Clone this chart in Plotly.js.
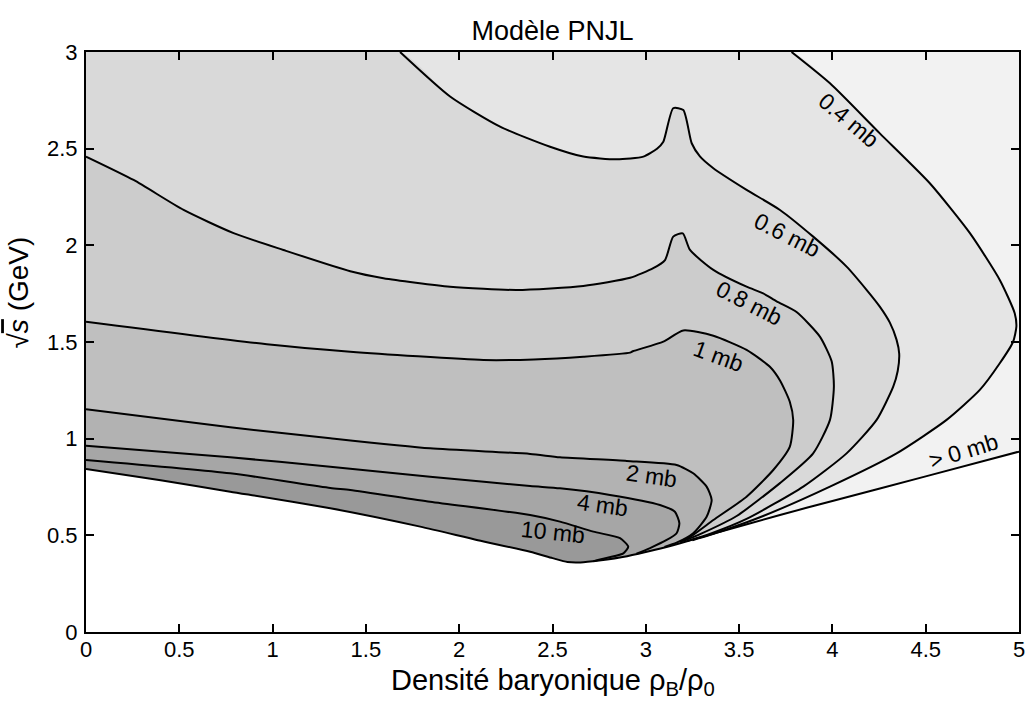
<!DOCTYPE html>
<html>
<head>
<meta charset="utf-8">
<script src="https://cdn.plot.ly/plotly-3.0.1.min.js"></script>
<style>html,body{margin:0;padding:0;background:#fff;}#chart{width:1029px;height:706px;}</style>
</head>
<body>
<div id="chart"></div>
<script>
// Threshold (lower boundary, "> 0 mb")
const lowerX = [0, 0.4, 0.773, 1.309, 1.791, 2.1, 2.38, 2.5, 2.58, 2.65, 2.75, 2.9, 3.05, 3.184, 3.35, 3.719, 4.0, 4.5, 5];
const lowerY = [0.843, 0.785, 0.726, 0.640, 0.545, 0.475, 0.415, 0.382, 0.362, 0.360, 0.370, 0.392, 0.425, 0.459, 0.505, 0.605, 0.678, 0.805, 0.933];

// Iso-cross-section contours (x = rho_B/rho_0, y = sqrt(s) GeV)
const c10x = [0, 0.773, 1.309, 1.416, 1.844, 2.38, 2.54, 2.719, 2.862, 2.906, 2.88, 2.80, 2.72];
const c10y = [0.890, 0.821, 0.745, 0.735, 0.674, 0.605, 0.571, 0.519, 0.485, 0.441, 0.407, 0.385, 0.366];

const c4x = [0, 0.773, 1.309, 1.844, 2.38, 2.54, 2.808, 3.076, 3.156, 3.18, 3.165, 3.112, 3.02, 2.95];
const c4y = [0.964, 0.904, 0.855, 0.803, 0.755, 0.743, 0.709, 0.657, 0.622, 0.562, 0.511, 0.476, 0.433, 0.405];

const c2x = [0, 0.773, 1.309, 1.844, 2.38, 2.54, 2.898, 3.165, 3.254, 3.326, 3.353, 3.326, 3.254, 3.165, 3.1];
const c2y = [1.152, 1.059, 1.002, 0.950, 0.921, 0.904, 0.885, 0.864, 0.821, 0.752, 0.683, 0.596, 0.511, 0.462, 0.440];

const c1x = [0, 0.969, 1.416, 2.13, 2.4, 2.665, 2.916, 2.93, 3.094, 3.201, 3.362, 3.54, 3.665, 3.72, 3.772, 3.79, 3.772, 3.683, 3.54, 3.362, 3.25, 3.184];
const c1y = [1.605, 1.488, 1.450, 1.407, 1.410, 1.424, 1.445, 1.452, 1.502, 1.560, 1.532, 1.459, 1.372, 1.30, 1.19, 1.097, 0.959, 0.838, 0.700, 0.579, 0.500, 0.465];

const c08x = [0, 0.255, 0.523, 0.791, 1.058, 1.416, 1.594, 1.951, 2.309, 2.665, 2.916, 3.04, 3.103, 3.147, 3.198, 3.237, 3.362, 3.54, 3.629, 3.701, 3.808, 3.933, 3.996, 4.008, 3.987, 3.897, 3.719, 3.487, 3.3, 3.2];
const c08y = [2.459, 2.338, 2.183, 2.063, 1.976, 1.866, 1.830, 1.786, 1.769, 1.790, 1.832, 1.882, 1.924, 2.045, 2.062, 1.976, 1.873, 1.786, 1.752, 1.710, 1.655, 1.528, 1.400, 1.270, 1.097, 0.924, 0.770, 0.600, 0.510, 0.470];

const c06x = [1.683, 1.951, 2.219, 2.487, 2.665, 2.844, 2.987, 3.06, 3.094, 3.147, 3.201, 3.246, 3.29, 3.362, 3.54, 3.719, 3.897, 4.076, 4.183, 4.254, 4.308, 4.344, 4.358, 4.35, 4.326, 4.237, 4.076, 3.844, 3.54, 3.35, 3.22];
const c06y = [3.0, 2.77, 2.614, 2.51, 2.459, 2.445, 2.459, 2.50, 2.536, 2.709, 2.70, 2.528, 2.46, 2.399, 2.287, 2.183, 2.045, 1.89, 1.77, 1.683, 1.60, 1.511, 1.44, 1.35, 1.269, 1.097, 0.924, 0.752, 0.585, 0.510, 0.470];

const c04x = [3.781, 3.987, 4.254, 4.522, 4.737, 4.897, 4.977, 4.986, 4.968, 4.897, 4.79, 4.612, 4.344, 3.987, 3.629, 3.40, 3.25];
const c04y = [3.0, 2.838, 2.579, 2.321, 2.063, 1.821, 1.649, 1.58, 1.50, 1.39, 1.252, 1.097, 0.924, 0.752, 0.600, 0.520, 0.475];

// Contour labels
const labelText = ['0.4 mb', '0.6 mb', '0.8 mb', '1 mb', '2 mb', '4 mb', '10 mb', '> 0 mb'];
const labelX = [4.088, 3.757, 3.553, 3.387, 3.033, 2.766, 2.50, 4.704];
const labelY = [2.65, 2.054, 1.70, 1.428, 0.807, 0.657, 0.517, 0.936];
const labelAngle = [40, 27, 27, 20, 8, 8, 6, -17];

const xTicks = [0, 0.5, 1, 1.5, 2, 2.5, 3, 3.5, 4, 4.5, 5];
const yTicks = [0, 0.5, 1, 1.5, 2, 2.5, 3];

const XMAX = 5, YMAX = 3;

function regionFromLine(lx, ly, startTop) {
  const xs = [], ys = [];
  if (startTop) { xs.push(0); ys.push(YMAX); }
  for (let i = 0; i < lx.length; i++) { xs.push(lx[i]); ys.push(ly[i]); }
  const endX = lx[lx.length - 1];
  for (let i = lowerX.length - 1; i >= 0; i--) {
    if (lowerX[i] < endX) { xs.push(lowerX[i]); ys.push(lowerY[i]); }
  }
  return {x: xs, y: ys};
}

const fills = [];
{
  const xs = lowerX.slice(), ys = lowerY.slice();
  xs.push(XMAX, 0); ys.push(YMAX, YMAX);
  fills.push({x: xs, y: ys, color: '#f2f2f2'});
}
const levels = [
  {lx: c04x, ly: c04y, top: true, color: '#e5e5e5'},
  {lx: c06x, ly: c06y, top: true, color: '#d9d9d9'},
  {lx: c08x, ly: c08y, top: false, color: '#cccccc'},
  {lx: c1x, ly: c1y, top: false, color: '#bfbfbf'},
  {lx: c2x, ly: c2y, top: false, color: '#b2b2b2'},
  {lx: c4x, ly: c4y, top: false, color: '#a6a6a6'},
  {lx: c10x, ly: c10y, top: false, color: '#999999'}
];
levels.forEach(l => {
  const r = regionFromLine(l.lx, l.ly, l.top);
  fills.push({x: r.x, y: r.y, color: l.color});
});

const SHAPE = {shape: 'spline', smoothing: 0.6};
const traces = [];
fills.forEach((f, i) => traces.push({
  x: f.x, y: f.y, type: 'scatter', mode: 'lines', fill: 'toself',
  fillcolor: f.color, line: Object.assign({width: 0, color: f.color}, i === 0 ? {} : SHAPE),
  hoverinfo: 'skip', showlegend: false
}));
[[lowerX, lowerY], [c04x, c04y], [c06x, c06y], [c08x, c08y], [c1x, c1y], [c2x, c2y], [c4x, c4y], [c10x, c10y]].forEach(p => {
  traces.push({x: p[0], y: p[1], type: 'scatter', mode: 'lines',
    line: Object.assign({color: '#000', width: 2}, SHAPE), hoverinfo: 'skip', showlegend: false});
});

const FONT = 'Liberation Sans, Arial, Helvetica, sans-serif';
const annotations = labelText.map((t, i) => ({
  x: labelX[i], y: labelY[i], xref: 'x', yref: 'y', text: t, showarrow: false,
  textangle: labelAngle[i], font: {family: FONT, size: 23, color: '#000'}
}));
annotations.push({
  x: -0.072, y: 0.585, xref: 'paper', yref: 'paper', showarrow: false, textangle: -90,
  text: '√<span style="text-decoration:overline"><i>s</i></span> (GeV)',
  font: {family: FONT, size: 28, color: '#000'}, xanchor: 'center', yanchor: 'middle'
});
annotations.push({
  x: 0.5, y: -0.052, xref: 'paper', yref: 'paper', showarrow: false, yanchor: 'top',
  text: 'Densité baryonique ρ<sub>B</sub>/ρ<sub>0</sub>',
  font: {family: FONT, size: 29, color: '#000'}
});

const axisCommon = {
  showgrid: false, zeroline: false, showline: true, linecolor: '#000', linewidth: 2,
  mirror: 'ticks', ticks: 'inside', ticklen: 8, tickwidth: 2, tickcolor: '#000',
  tickfont: {family: FONT, size: 22, color: '#000'}, fixedrange: true
};

const layout = {
  width: 1029, height: 706,
  margin: {l: 86, r: 10, t: 52, b: 74},
  paper_bgcolor: '#fff', plot_bgcolor: '#fff',
  title: {text: 'Modèle PNJL', x: 0.5, xref: 'paper', y: 0.957, yanchor: 'middle',
    font: {family: FONT, size: 27, color: '#000'}},
  xaxis: Object.assign({}, axisCommon, {range: [0, XMAX], tickvals: xTicks, ticktext: xTicks.map(String), ticklabelstandoff: -3}),
  yaxis: Object.assign({}, axisCommon, {range: [0, YMAX], tickvals: yTicks, ticktext: yTicks.map(String), ticklabelstandoff: 2}),
  annotations: annotations,
  showlegend: false
};

Plotly.newPlot('chart', traces, layout, {displayModeBar: false, staticPlot: true});
</script>
</body>
</html>
